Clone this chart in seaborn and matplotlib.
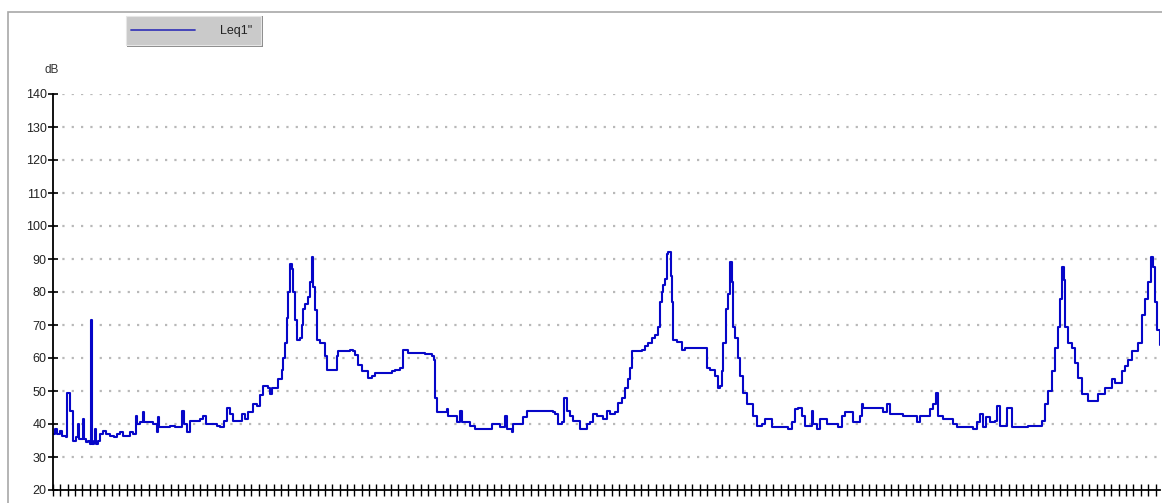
import numpy as np
import pandas as pd
import seaborn as sns
import matplotlib
matplotlib.use("Agg")
import matplotlib.pyplot as plt
from matplotlib.patches import Rectangle

# time in seconds from start of the record, 1 s Leq values in dB
seconds = [
    0, 2, 4, 7, 9, 13, 14, 16, 17, 19, 20, 23, 25, 26, 29, 30, 31, 33, 35, 37,
    38, 39, 41, 42, 43, 45, 47, 50, 53, 57, 61, 64, 67, 70, 74, 77, 80, 83, 84, 87,
    90, 91, 97, 100, 104, 105, 106, 112, 117, 122, 127, 129, 131, 134, 137, 143, 147, 150, 153, 159,
    164, 167, 171, 174, 177, 180, 185,
    189, 192, 195, 200, 204, 207, 210, 215, 217, 219, 224, 225, 229, 230, 232, 234, 235, 237,
    239, 240, 242, 244, 247, 249, 250, 252, 255, 257, 259, 260, 262, 264, 267, 272, 274, 282,
    284, 285, 292, 297, 300, 302, 305, 309, 315, 319, 322, 332, 339, 342, 347, 350, 355, 362, 372,
    377, 379, 381, 382, 384, 392, 394, 395, 400, 404, 407, 409, 415, 417, 422, 437, 439, 444,
    447, 452, 454, 459, 460, 467, 470, 474, 487, 500, 502, 505, 509, 511, 514, 517, 520, 527,
    532, 534, 537, 540, 544, 550, 554,
    557, 562, 565, 569, 572, 575, 577, 579, 589, 592, 595, 599, 602, 605, 607, 609, 610, 612,
    614, 615, 618, 619, 620, 624, 629, 632, 652, 654, 657, 662, 665, 667, 669, 670, 673, 675,
    677, 679, 680, 682, 685, 687, 690, 694, 700, 704, 709, 712, 715, 719, 732, 735, 739,
    742, 745, 749, 752, 759, 760, 764, 767, 774, 784, 785, 789, 792, 797, 800, 807, 809, 810,
    827, 830, 834, 837, 850, 860, 864, 867, 874, 877, 880, 883, 885, 890, 897, 900, 904, 917,
    920, 924,
    927, 930, 933, 937, 942, 944, 947, 952, 954, 957, 959, 972, 975, 987, 989, 992, 995, 999,
    1002, 1005, 1007, 1009, 1011, 1012, 1015, 1019, 1022, 1025, 1029, 1035, 1042, 1045, 1049,
    1052, 1055, 1059, 1062, 1065, 1069, 1072, 1075, 1079, 1084, 1085, 1089, 1092, 1095, 1098,
    1100, 1102, 1104, 1107,
]
leq_db = [
    37, 38.5, 37, 38, 36.5, 36, 49.5, 49.5, 44, 44, 35, 36, 40, 35.5, 35.5, 41.5, 35.5, 34.5, 35, 34,
    71.5, 34, 35, 38.5, 34, 35, 37, 38, 37, 36.5, 36, 37, 37.5, 36.5, 36.5, 37.5, 37, 42.5, 40, 40.5,
    43.5, 40.5, 40.5, 40, 37.5, 42, 39, 39, 39.5, 39, 39, 44, 40, 37.5, 41, 41, 41.5, 42.5, 40, 40,
    39.5, 39, 41, 45, 43, 41, 41,
    43, 41.5, 43.5, 46, 45.5, 48.7, 51.5, 51, 49, 51, 51, 53.5, 56.5, 60, 64.5, 72, 80, 88.5,
    87, 80, 71.5, 65.5, 66, 70, 75, 76.5, 78.5, 83, 90.5, 81.5, 74.5, 65.5, 64.5, 60.5, 56.5, 56.5,
    60.5, 62, 62, 62.5, 62, 61, 58, 56, 54, 54.5, 55.5, 55.5, 56, 56.5, 57, 62.5, 61.5, 61.5, 61.3,
    61.3, 60.5, 59.5, 48, 43.5, 43.5, 44.5, 42.5, 42.5, 40.5, 44, 40.5, 40.5, 39.5, 38.5, 38.5, 40, 40,
    39, 42.5, 38.5, 37.5, 40, 40, 42, 44, 44, 43.5, 43, 40, 40.5, 48, 44, 42.5, 41, 38.5,
    38.5, 40, 40.5, 43, 42.5, 41.5, 44,
    43, 43.5, 46.5, 48, 51, 53.5, 57, 62, 62.5, 63.5, 64.5, 66, 67, 69.5, 77, 80, 82, 84,
    91.5, 92, 85, 77, 65.5, 65, 62.5, 63, 63, 57, 56.5, 54.5, 51, 51.5, 56, 64.5, 75, 79.5,
    89, 83, 69.5, 66, 60, 54.5, 49.5, 46, 42.5, 39.5, 40, 41.5, 41.5, 39, 39, 38.5, 40.5,
    44.5, 45, 42.5, 39.5, 44, 40, 38.5, 41.5, 40, 40, 39, 42.5, 43.5, 43.5, 40.5, 42.5, 46, 45,
    45, 43.5, 46, 43, 42.5, 42.5, 40.5, 42.5, 42.5, 44.5, 46, 49.5, 42.5, 41.5, 41.5, 40, 39, 39,
    38.5, 40.5,
    43, 39, 42, 40.5, 41, 45.5, 39.5, 39.5, 45, 45, 39, 39, 39.5, 39.5, 41, 46, 50, 56,
    63, 69.5, 78, 87.5, 83.5, 69.5, 64.5, 63, 58.5, 54, 49, 47, 47, 49, 49,
    51, 51, 53.5, 52.5, 52.5, 56, 57.5, 59.5, 62, 62, 64.5, 73, 78, 83, 90.5,
    87.5, 77, 68.5, 64,
]
y_ticks = list(range(20, 141, 10))
series_name = 'Leq1"'

df = pd.DataFrame({"t": seconds, "leq": leq_db})

sns.set_style("white")
plt.rcParams["font.family"] = ["Liberation Sans", "DejaVu Sans"]

W, H = 1162, 503
fig = plt.figure(figsize=(W / 100, H / 100), dpi=100)
ax = fig.add_axes([53 / W, 1 - 490 / H, (1160 - 53) / W, (490 - 94) / H])

sns.lineplot(data=df, x="t", y="leq", ax=ax, color="#0606c8", linewidth=1.5,
             drawstyle="steps-post", label=series_name, legend=False)

ax.set_xlim(0, 1107)
ax.set_ylim(20, 140)
ax.set_yticks(y_ticks)
ax.set_xticks(np.arange(0, 1107, 7.35))
ax.set_xticklabels([])
ax.set_xlabel("")
ax.set_ylabel("")
ax.tick_params(axis="y", direction="inout", length=7, width=1.2, colors="black",
               labelsize=9, labelcolor="#222222", pad=1, left=True)
ax.tick_params(axis="x", direction="inout", length=8, width=1.0, colors="black", bottom=True)

for v in y_ticks[1:]:
    ax.axhline(v, color="#b8b8b8", linewidth=1.6, linestyle=(0, (1, 3.2)), zorder=0)

for side in ["top", "right"]:
    ax.spines[side].set_visible(False)
for side in ["left", "bottom"]:
    ax.spines[side].set_color("black")
    ax.spines[side].set_linewidth(1.3)
ax.patch.set_alpha(0)

# outer panel frame
fig.add_artist(Rectangle((8 / W, -0.1), 1.2, 1 - 12 / H + 0.1, transform=fig.transFigure,
                         fill=False, edgecolor="#a8a8a8", linewidth=1.2, zorder=0))

fig.text(52 / W, 1 - 70 / H, "dB", ha="center", va="center", fontsize=8.5, color="#333333")

# legend button
fig.add_artist(Rectangle((127 / W, 1 - 47 / H), 136 / W, 31 / H, transform=fig.transFigure,
                         facecolor="#8c8c8c", edgecolor="none", zorder=1))
fig.add_artist(Rectangle((126 / W, 1 - 45 / H), 135 / W, 29 / H, transform=fig.transFigure,
                         facecolor="#cacaca", edgecolor="#e6e6e6", linewidth=0.8, zorder=2))
fig.add_artist(plt.Line2D([131 / W, 195 / W], [1 - 30 / H, 1 - 30 / H], transform=fig.transFigure,
                          color="#3a3ab8", linewidth=1.3, zorder=3))
fig.text(236 / W, 1 - 31 / H, series_name, ha="center", va="center", fontsize=9,
         color="#222222", zorder=3)

fig.savefig("out.png", dpi=100)
